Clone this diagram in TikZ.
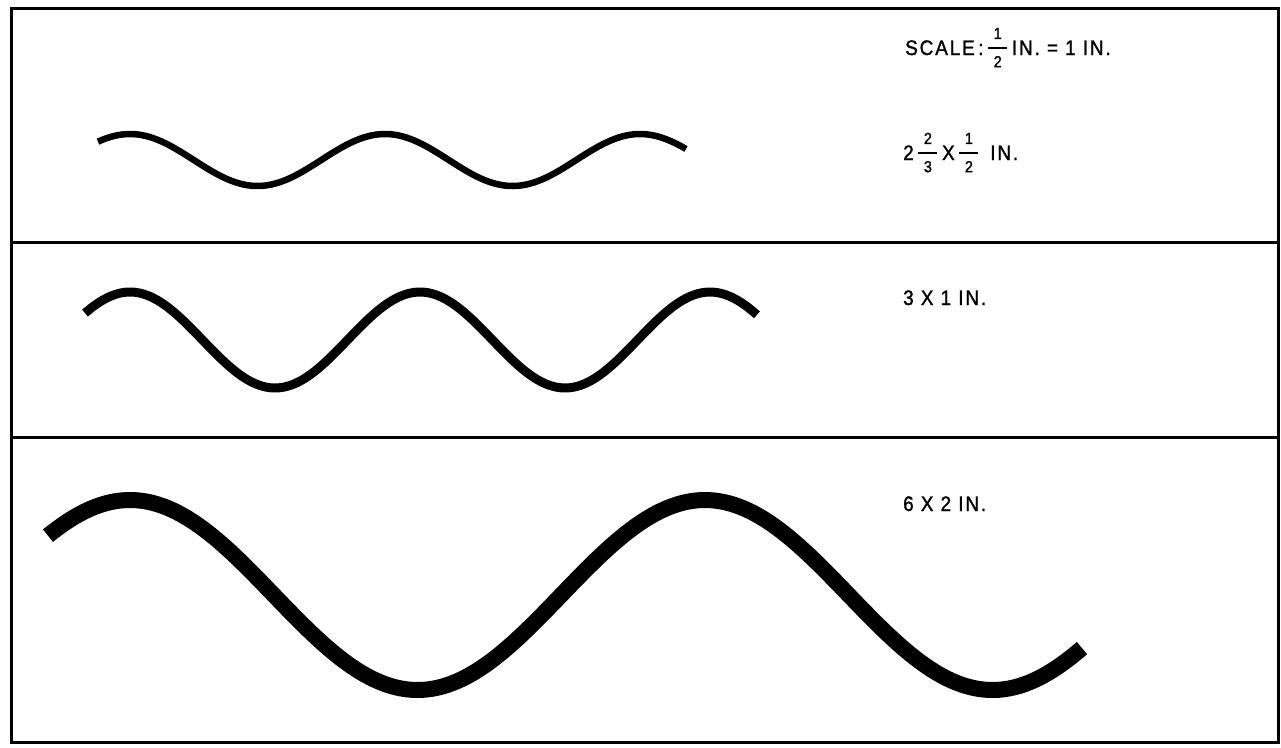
\documentclass[tikz,border=0pt]{standalone}
\usepackage{amsmath}
\usepackage{fontspec}
\setmainfont{Liberation Sans}
\newfontfamily\lettering[LetterSpace=9,FakeBold=1.3,FakeStretch=0.9]{Liberation Sans}
\newcommand{\fr}[2]{\raisebox{2pt}{$\genfrac{}{}{1.8pt}{0}{\makebox[19pt]{\lettering\fontsize{16}{16}\selectfont #1}}{\makebox[19pt]{\lettering\fontsize{16}{16}\selectfont #2}}$}}
\begin{document}
\begin{tikzpicture}[x=1pt,y=-1pt,
  frameline/.style={line width=3pt,black},
  wavethin/.style={line width=6.5pt,black,line cap=butt,line join=round},
  wavemid/.style={line width=9pt,black,line cap=butt,line join=round},
  wavethick/.style={line width=16pt,black,line cap=butt,line join=round},
  label/.style={anchor=base west,inner sep=0pt,font=\lettering\fontsize{21}{23}\selectfont}]
\useasboundingbox (0,0) rectangle (1281,747);
\fill[white] (0,0) rectangle (1281,747);
% frame
\coordinate (tl) at (11,8);
\coordinate (br) at (1278,742);
\draw[frameline] (tl) rectangle (br);
\coordinate (d1l) at (11,242); \coordinate (d1r) at (1278,242);
\coordinate (d2l) at (11,437); \coordinate (d2r) at (1278,437);
\draw[frameline] (d1l) -- (d1r);
\draw[frameline] (d2l) -- (d2r);
% waves
\draw[wavethin] plot[domain=98:686,samples=150] (\x,{160-26*cos((\x-130)/255*360)});
\draw[wavemid] plot[domain=85:757,samples=150] (\x,{340-48*cos((\x-130)/290*360)});
\draw[wavethick] plot[domain=48:1082,samples=200] (\x,{595-95*cos((\x-130)/575*360)});
% labels
\node[label] (scale) at (905,55) {SCALE\,:\,\fr{1}{2}\,IN. = 1 IN.};
\node[label] (s1) at (903,160) {2\,\fr{2}{3}\,X\,\fr{1}{2}\, IN.};
\node[label] (s2) at (903,305) {3 X 1 IN.};
\node[label] (s3) at (903,511) {6 X 2 IN.};
\end{tikzpicture}
\end{document}
